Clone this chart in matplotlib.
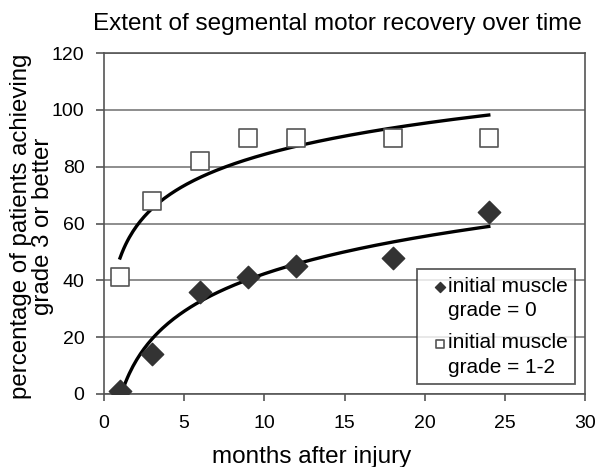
import numpy as np
import matplotlib
matplotlib.use("Agg")
import matplotlib.pyplot as plt

plt.rcParams['font.family'] = ['Liberation Sans', 'DejaVu Sans']

months = [1, 3, 6, 9, 12, 18, 24]
grade0 = [1, 14, 36, 41, 45, 48, 64]
grade12 = [41, 68, 82, 90, 90, 90, 90]

title = "Extent of segmental motor recovery over time"
xlabel = "months after injury"
ylabel = "percentage of patients achieving\ngrade 3 or better"
label0 = "initial muscle\ngrade = 0"
label12 = "initial muscle\ngrade = 1-2"

W, H = 596, 467
fig = plt.figure(figsize=(W / 100, H / 100), dpi=100)
ax = fig.add_axes([104/W, 1 - 394/H, 481/W, 341/H])

# logarithmic trend lines fitted to the data
xs = np.linspace(min(months), max(months), 200)
for ys in (grade0, grade12):
    a, b = np.polyfit(np.log(months), ys, 1)
    ax.plot(xs, a * np.log(xs) + b, color='black', lw=2.4, zorder=3)

ax.scatter(months, grade0, marker='D', s=130, color='#333333', zorder=4,
           label=label0)
ax.scatter(months, grade12, marker='s', s=180, facecolor='white',
           edgecolor='#555555', linewidths=1.2, zorder=4, label=label12)

ax.set_xlim(0, 30)
ax.set_ylim(0, 120)
ax.set_xticks(range(0, 31, 5))
ax.set_yticks(range(0, 121, 20))
ax.yaxis.grid(True, color='#7a7a7a', lw=1.2)
ax.set_axisbelow(True)
for s in ax.spines.values():
    s.set_color('#555555')
    s.set_linewidth(1.2)
ax.tick_params(labelsize=14, color='#555555', width=1.2)
ax.tick_params(axis='x', length=5, pad=10)
ax.tick_params(axis='y', length=6, pad=8)

ax.set_xlabel(xlabel, fontsize=17.5, va='baseline')
ax.xaxis.set_label_coords(0.432, (394 - 463) / 341)
ax.set_ylabel(ylabel, fontsize=17.3, linespacing=1.0, va='center')
ax.yaxis.set_label_coords((32.5 - 104) / 481, 0.493)
fig.text(337.5 / W, 1 - 30 / H, title, ha='center', va='baseline',
         fontsize=17.5)

leg = ax.legend(loc='lower right', bbox_to_anchor=((575 - 104) / 481, 10 / 341),
                fontsize=15, frameon=True, fancybox=False, edgecolor='#333333',
                handlelength=1.0, handletextpad=0.15, borderpad=0.35,
                labelspacing=0.65, borderaxespad=0, markerscale=0.45)
leg.get_frame().set_linewidth(1.3)
for t in leg.get_texts():
    t.set_linespacing(1.35)
for h in leg.legend_handles:
    h.set_offsets(h.get_offsets() + np.array([4.0, 9.4]))

fig.savefig("out.png", dpi=100)
